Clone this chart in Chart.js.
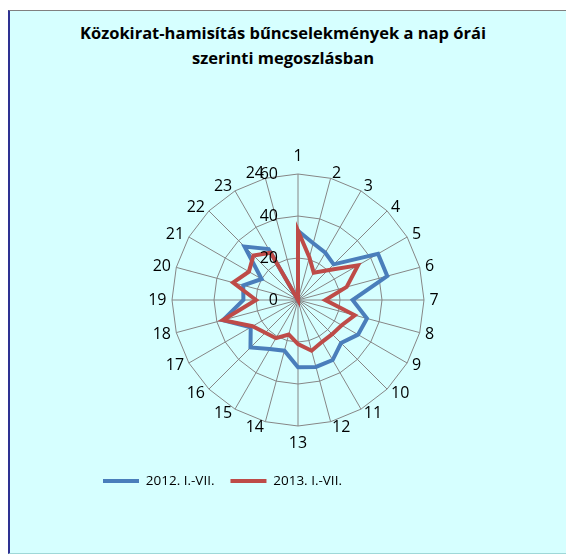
<!DOCTYPE html>
<html>
<head>
<meta charset="utf-8">
<script src="https://cdn.jsdelivr.net/npm/chart.js@4"></script>
<style>
    html, body { margin: 0; padding: 0; background: #ffffff; }
    body { width: 566px; height: 555px; position: relative; overflow: hidden; }
    .frame {
        position: absolute; left: 8px; top: 10px; width: 600px; height: 542px;
        background: #d6ffff;
        border-left: 2px solid #2e3192;
        border-top: 1px solid #808080;
        border-bottom: 1px solid #9fd8d8;
    }
    .title {
        position: absolute; left: 43px; width: 480px; top: 20px;
        text-align: center; font: bold 16.5px "Open Sans", sans-serif; line-height: 25px; color: #000;
    }
    canvas { position: absolute; left: 0; top: 0; }
</style>
</head>
<body>
<div class="frame"></div>
<div class="title">Közokirat-hamisítás bűncselekmények a nap órái<br>szerinti megoszlásban</div>
<canvas id="radarChart" width="566" height="555"></canvas>
<script>
    // Hours of the day (axis labels)
    const hours = ['1', '2', '3', '4', '5', '6', '7', '8', '9', '10', '11', '12',
                   '13', '14', '15', '16', '17', '18', '19', '20', '21', '22', '23', '24'];

    // Number of offences per hour
    const values2012 = [33, 28, 26, 24, 44, 44, 26, 34, 33, 29, 33, 33,
                        32, 25, 27, 32, 26, 37, 26, 27, 20, 36, 28, 0];
    const values2013 = [33, 21, 15, 20, 33, 24, 13, 28, 24, 23, 23, 25,
                        21, 17, 21, 22, 25, 37, 20, 32, 27, 30, 26, 0];

    const seriesNames = ['2012. I.-VII.', '2013. I.-VII.'];
    const tickValues = [0, 20, 40, 60];

    const labelFont = '16px "Open Sans", sans-serif';

    // Hour labels next to each spoke (Excel style, vertically centred) and
    // value labels left of the vertical axis
    const axisLabelsPlugin = {
        id: 'axisLabels',
        afterDatasetsDraw: function(chart) {
            const r = chart.scales.r;
            const ctx = chart.ctx;
            ctx.save();
            ctx.font = labelFont;
            ctx.fillStyle = '#000';
            ctx.textBaseline = 'middle';

            hours.forEach(function(label, i) {
                const s = Math.sin(r.getIndexAngle(i));
                let dist = r.drawingArea + 5.5;
                if (s > 0.01) {
                    ctx.textAlign = 'left';
                } else if (s < -0.01) {
                    ctx.textAlign = 'right';
                } else {
                    ctx.textAlign = 'center';
                    dist += 12;   // labels straight above / below
                }
                const p = r.getPointPosition(i, dist);
                ctx.fillText(label, p.x, p.y);
            });

            ctx.textAlign = 'right';
            tickValues.forEach(function(v) {
                const d = r.getDistanceFromCenterForValue(v);
                ctx.fillText(String(v), r.xCenter - 20, r.yCenter - d);
            });
            ctx.restore();
        }
    };

    const ctx = document.getElementById('radarChart').getContext('2d');
    new Chart(ctx, {
        type: 'radar',
        data: {
            labels: hours,
            datasets: [
                {
                    label: seriesNames[0],
                    data: values2012,
                    borderColor: '#4a7ebb',
                    backgroundColor: '#4a7ebb',
                    borderWidth: 4,
                    pointRadius: 0,
                    fill: false,
                    order: 1
                },
                {
                    label: seriesNames[1],
                    data: values2013,
                    borderColor: '#be4b48',
                    backgroundColor: '#be4b48',
                    borderWidth: 4,
                    pointRadius: 0,
                    fill: false,
                    order: 0
                }
            ]
        },
        options: {
            responsive: false,
            animation: false,
            layout: {
                padding: { left: 87, right: 57, top: 174, bottom: 57.25 }
            },
            plugins: {
                title: { display: false },
                tooltip: { enabled: false },
                legend: {
                    position: 'bottom',
                    align: 'start',
                    // empty legend title only adds room between the plot and the items
                    title: { display: true, text: '', padding: { top: 31.25, bottom: 0 }, font: { size: 1, lineHeight: 1 } },
                    labels: {
                        boxWidth: 36,
                        boxHeight: 4,
                        padding: 16,
                        color: '#000',
                        font: { family: '"Open Sans", sans-serif', size: 13.5 },
                        sort: function(a, b) { return a.datasetIndex - b.datasetIndex; },
                        generateLabels: function(chart) {
                            const items = Chart.defaults.plugins.legend.labels.generateLabels(chart);
                            items.forEach(function(item) { item.lineWidth = 0; });
                            return items;
                        }
                    }
                }
            },
            scales: {
                r: {
                    min: 0,
                    max: 60,
                    ticks: { stepSize: 20, display: false },
                    grid: { color: '#868686', lineWidth: 1, circular: false },
                    angleLines: { color: '#868686', lineWidth: 1 },
                    pointLabels: { display: false }
                }
            }
        },
        plugins: [axisLabelsPlugin]
    });
</script>
</body>
</html>
